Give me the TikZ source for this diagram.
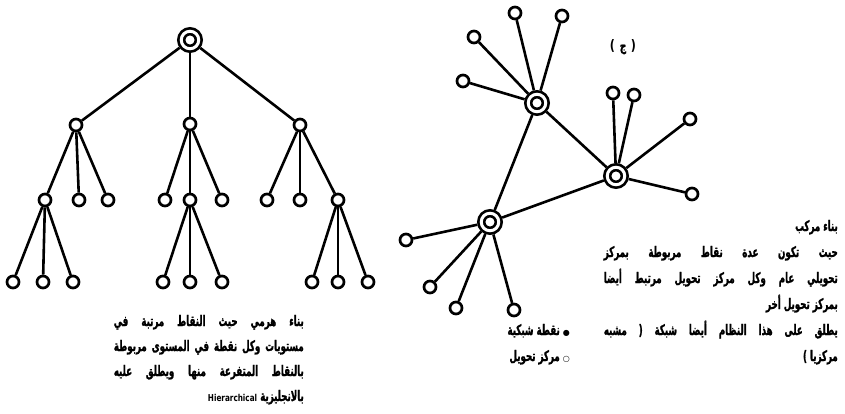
\documentclass[tikz,border=0pt]{standalone}
\usepackage{fontspec}
\TeXXeTstate=1
\newfontfamily\arab[Script=Arabic, FakeStretch=0.6, BoldFeatures={FakeBold=1.2}]{DejaVu Sans}
\newfontfamily\latn[FakeStretch=0.85]{DejaVu Sans Condensed}
\newfontfamily\symb{DejaVu Sans}
\newcommand\jline[2]{\hbox to #1{\spaceskip=.3em plus 1fil #2}}
\newcommand\rline[2]{\hbox to #1{\hfill #2}}
\tikzset{
  leaf/.style={circle, draw, line width=2.7pt, minimum size=12pt, inner sep=0pt},
  hub/.style={circle, draw, line width=2.7pt, double, double distance=3pt,
              minimum size=17.5pt, inner sep=0pt, outer sep=4.2pt},
  link/.style={line width=2.6pt},
  txt/.style={inner sep=0pt, font=\arab\bfseries\fontsize{14.5}{25}\selectfont}
}
\begin{document}
\begin{tikzpicture}[x=1pt,y=-1pt]
\useasboundingbox (0,0) rectangle (845,413);
% ---------- hierarchical tree ----------
\node[hub] (r) at (190,40) {};
\node[leaf] (a1) at (76,125) {};
\node[leaf] (a2) at (190,124) {};
\node[leaf] (a3) at (300,125) {};
\foreach \n/\x in {b1/45,b2/79,b3/108,b4/165,b5/190,b6/222,b7/267,b8/300,b9/338}
  \node[leaf] (\n) at (\x,200) {};
\foreach \n/\x in {c1/13,c2/43,c3/73,c4/163,c5/190,c6/222,c7/312,c8/338,c9/368}
  \node[leaf] (\n) at (\x,282) {};
\foreach \s/\t in {r/a1,r/a2,r/a3,a1/b1,a1/b2,a1/b3,a2/b4,a2/b5,a2/b6,a3/b7,a3/b8,a3/b9,
                   b1/c1,b1/c2,b1/c3,b5/c4,b5/c5,b5/c6,b9/c7,b9/c8,b9/c9}
  \draw[link] (\s) -- (\t);
% ---------- composite network ----------
\node[hub] (A) at (537,103) {};
\node[hub] (B) at (616,176) {};
\node[hub] (C) at (490,222) {};
\node[leaf] (A1) at (515,13) {};
\node[leaf] (A2) at (562,16) {};
\node[leaf] (A3) at (474,37) {};
\node[leaf] (A4) at (463,81) {};
\node[leaf] (B1) at (613,93) {};
\node[leaf] (B2) at (634,95) {};
\node[leaf] (B3) at (690,119) {};
\node[leaf] (B4) at (692,194) {};
\node[leaf] (C1) at (406,240) {};
\node[leaf] (C2) at (430,287) {};
\node[leaf] (C3) at (456,308) {};
\node[leaf] (C4) at (514,310) {};
\foreach \s/\t in {A/B,A/C,B/C,A/A1,A/A2,A/A3,A/A4,B/B1,B/B2,B/B3,B/B4,C/C1,C/C2,C/C3,C/C4}
  \draw[link] (\s) -- (\t);
\node[txt] (lab) at (623,47) {{\latn\bfseries (}\,\,ج\,\,{\latn\bfseries )}};
% ---------- texts ----------
\node[txt, anchor=base east] (lefttext) at (304,401) {\vbox{\baselineskip=25pt\lineskiplimit=-20pt
  \jline{190pt}{\beginR بناء هرمي حيث النقاط مرتبة في\endR}
  \jline{190pt}{\beginR مستويات وكل نقطة في المستوى مربوطة\endR}
  \jline{190pt}{\beginR بالنقاط المتفرعة منها ويطلق عليه\endR}
  \rline{190pt}{\beginR بالانجليزية {\latn\fontsize{9.5}{12}\selectfont Hierarchical}\endR}}};
\node[txt, anchor=base east] (righttext) at (838,361) {\vbox{\baselineskip=26pt\lineskiplimit=-20pt
  \rline{234pt}{\beginR بناء مركب\endR}
  \jline{234pt}{\beginR حيث تكون عدة نقاط مربوطة بمركز\endR}
  \jline{234pt}{\beginR تحويلي عام وكل مركز تحويل مرتبط أيضا\endR}
  \rline{234pt}{\beginR بمركز تحويل أخر\endR}
  \jline{234pt}{\beginR يطلق على هذا النظام أيضا شبكة ( مشبه\endR}
  \rline{234pt}{\beginR مركزيا )\endR}}};
\node[txt, anchor=base east] (leg1) at (570,335) {\beginR{\symb\fontsize{8}{8}\selectfont ●} نقطة شبكية\endR};
\node[txt, anchor=base east] (leg2) at (570,361) {\beginR{\symb\fontsize{8}{8}\selectfont ○} مركز تحويل\endR};
\end{tikzpicture}
\end{document}
